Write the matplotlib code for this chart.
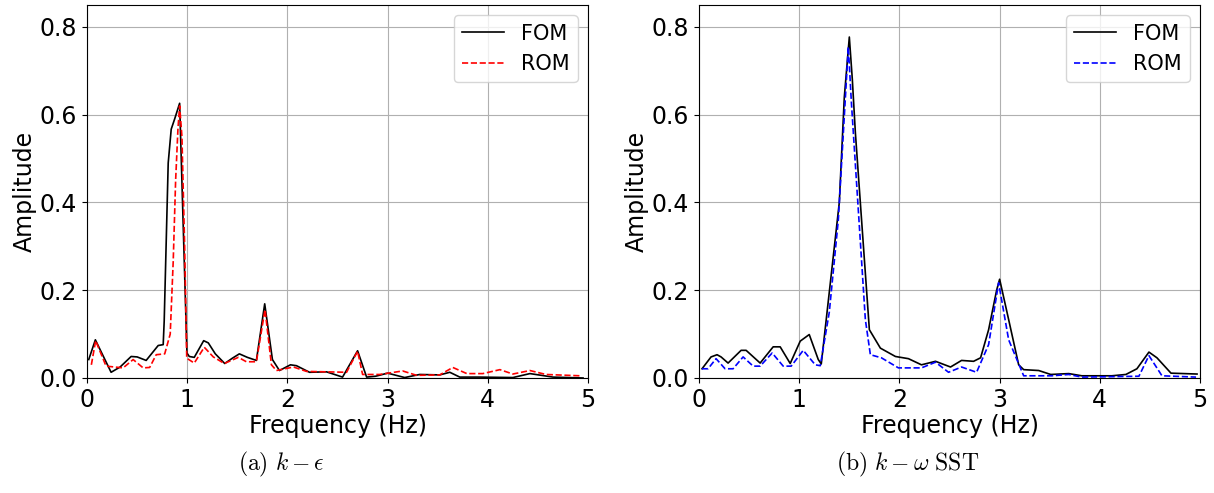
import numpy as np
import matplotlib
matplotlib.use("Agg")
import matplotlib.pyplot as plt

plt.rcParams['mathtext.fontset'] = 'cm'

# ---------- DATA ----------
# (a) k-epsilon
ke_fom_f = [0.017, 0.083, 0.14, 0.24, 0.33, 0.44, 0.50, 0.59, 0.71, 0.76, 0.77, 0.81,
            0.84, 0.874, 0.924, 0.997, 1.02, 1.07, 1.164, 1.21, 1.28, 1.374, 1.45, 1.52,
            1.60, 1.69, 1.773, 1.85, 1.92, 2.03, 2.09, 2.22, 2.39, 2.47, 2.55, 2.70,
            2.79, 2.88, 3.00, 3.17, 3.32, 3.52, 3.62, 3.72, 3.92, 4.25, 4.42, 4.65, 4.95]
ke_fom_a = [0.042, 0.087, 0.060, 0.013, 0.025, 0.049, 0.048, 0.040, 0.074, 0.076, 0.13, 0.49,
            0.567, 0.59, 0.626, 0.057, 0.049, 0.047, 0.085, 0.080, 0.055, 0.033, 0.045, 0.055,
            0.047, 0.040, 0.169, 0.042, 0.017, 0.030, 0.028, 0.013, 0.014, 0.008, 0.002, 0.062,
            0.002, 0.004, 0.011, 0.001, 0.008, 0.007, 0.013, 0.002, 0.002, 0.001, 0.010, 0.002, 0.0]

ke_rom_f = [0.043, 0.086, 0.19, 0.36, 0.46, 0.56, 0.625, 0.69, 0.775, 0.83, 0.86, 0.884,
            0.907, 0.924, 0.947, 0.974, 0.995, 1.07, 1.17, 1.26, 1.37, 1.51, 1.59, 1.69,
            1.776, 1.84, 1.89, 2.06, 2.19, 2.59, 2.70, 2.75, 2.92, 3.15, 3.29, 3.52, 3.65,
            3.79, 3.95, 4.12, 4.25, 4.42, 4.58, 4.92]
ke_rom_a = [0.030, 0.085, 0.027, 0.023, 0.042, 0.023, 0.024, 0.053, 0.055, 0.100, 0.266, 0.45,
            0.567, 0.62, 0.55, 0.30, 0.045, 0.034, 0.070, 0.048, 0.033, 0.047, 0.037, 0.037,
            0.156, 0.030, 0.017, 0.025, 0.015, 0.013, 0.061, 0.008, 0.008, 0.016, 0.006, 0.007, 0.024,
            0.010, 0.010, 0.019, 0.009, 0.017, 0.008, 0.005]

# (b) k-omega SST
sst_fom_f = [0.03, 0.12, 0.18, 0.22, 0.29, 0.42, 0.47, 0.61, 0.74, 0.81, 0.91, 1.01, 1.10,
             1.19, 1.22, 1.40, 1.45, 1.50, 1.53, 1.56, 1.70, 1.81, 1.96, 2.09, 2.22, 2.36,
             2.51, 2.62, 2.74, 2.81, 2.89, 2.97, 3.00, 3.09, 3.19, 3.24, 3.39, 3.51, 3.69,
             3.82, 4.12, 4.26, 4.37, 4.49, 4.57, 4.71, 4.97]
sst_fom_a = [0.021, 0.048, 0.053, 0.048, 0.034, 0.063, 0.063, 0.034, 0.071, 0.071, 0.033, 0.084, 0.099,
             0.042, 0.032, 0.40, 0.64, 0.777, 0.68, 0.56, 0.11, 0.068, 0.049, 0.044, 0.030, 0.038,
             0.025, 0.040, 0.038, 0.046, 0.110, 0.20, 0.225, 0.133, 0.030, 0.019, 0.017, 0.008, 0.010,
             0.005, 0.005, 0.008, 0.021, 0.059, 0.046, 0.011, 0.009]

sst_rom_f = [0.03, 0.09, 0.17, 0.26, 0.34, 0.44, 0.54, 0.61, 0.73, 0.84, 0.92, 1.04, 1.16,
             1.21, 1.30, 1.39, 1.49, 1.52, 1.66, 1.71, 1.82, 1.99, 2.22, 2.36, 2.49, 2.62,
             2.77, 2.89, 2.99, 3.09, 3.24, 3.52, 3.69, 3.82, 4.39, 4.49, 4.62, 4.96]
sst_rom_a = [0.021, 0.021, 0.044, 0.021, 0.021, 0.048, 0.027, 0.027, 0.057, 0.027, 0.027, 0.063, 0.030,
             0.028, 0.15, 0.36, 0.755, 0.63, 0.133, 0.053, 0.046, 0.023, 0.023, 0.036, 0.013, 0.025,
             0.013, 0.076, 0.217, 0.087, 0.005, 0.005, 0.008, 0.002, 0.004, 0.051, 0.005, 0.002]

# ---------- PLOT ----------
fig = plt.figure(figsize=(12.14, 4.93), dpi=100)
ax1 = fig.add_axes([0.0717, 0.2333, 0.4127, 0.7566])
ax2 = fig.add_axes([0.5758, 0.2333, 0.4127, 0.7566])

panels = [
    (ax1, ke_fom_f, ke_fom_a, ke_rom_f, ke_rom_a, 'red'),
    (ax2, sst_fom_f, sst_fom_a, sst_rom_f, sst_rom_a, 'blue'),
]
for ax, ff, fa, rf, ra, c in panels:
    ax.plot(ff, fa, color='black', lw=1.2, label='FOM')
    ax.plot(rf, ra, color=c, lw=1.2, ls='--', label='ROM')
    ax.set_xlim(0, 5)
    ax.set_ylim(0, 0.85)
    ax.set_xticks([0, 1, 2, 3, 4, 5])
    ax.set_yticks([0.0, 0.2, 0.4, 0.6, 0.8])
    ax.grid(True)
    ax.tick_params(labelsize=17)
    ax.set_xlabel('Frequency (Hz)', fontsize=17, labelpad=2)
    ax.set_ylabel('Amplitude', fontsize=17, labelpad=2)
    ax.legend(loc='upper right', fontsize=15)

fig.text(0.232, 0.057, r'$\mathrm{(a)}\ k-\epsilon$', fontsize=17, ha='center', va='center')
fig.text(0.748, 0.057, r'$\mathrm{(b)}\ k-\omega\ \mathrm{SST}$', fontsize=17, ha='center', va='center')

fig.savefig('out.png', dpi=100)
